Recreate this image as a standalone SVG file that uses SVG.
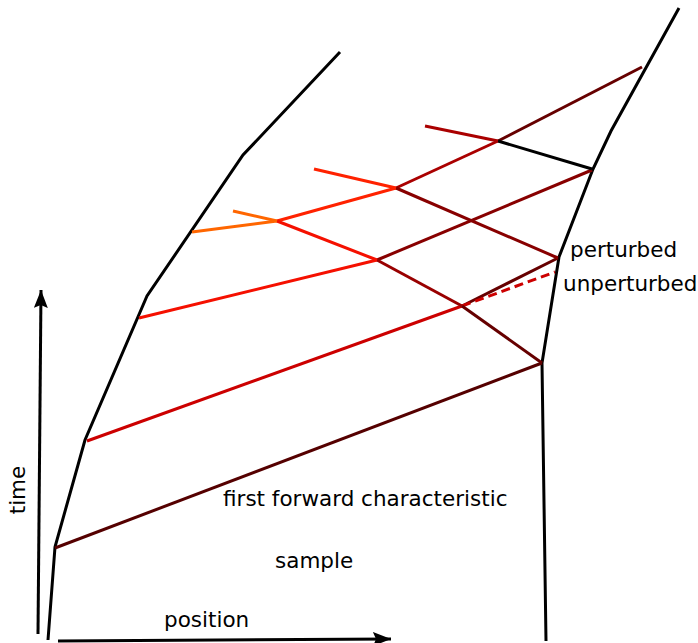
<svg xmlns="http://www.w3.org/2000/svg" width="698" height="643" viewBox="0 0 698 643">
<style>
line,polyline{fill:none;stroke-width:3;stroke-linecap:butt;stroke-linejoin:miter}
.k{stroke:#000}
text{font-family:"DejaVu Sans",sans-serif;font-size:21.5px;fill:#000}
</style>
<defs>
<marker id="ah2" markerWidth="18" markerHeight="14" refX="18" refY="7" orient="auto" markerUnits="userSpaceOnUse" viewBox="0 0 18 14">
<path d="M0,0 L18,7 L0,14 L3,7 Z" fill="#000"/>
</marker>
</defs>
<g id="axes">
<line class="k" x1="38" y1="634" x2="41" y2="290" marker-end="url(#ah2)"/>
<line class="k" x1="58" y1="641" x2="391" y2="639" marker-end="url(#ah2)"/>
</g>
<g id="boundaries">
<polyline class="k" points="48,640 55,547 85,440 147,296 243,155 340,52"/>
<polyline class="k" points="546,641 542,363 559,257 593,169 611,131 679,8"/>
</g>
<g id="connectors">
<line x1="55" y1="548" x2="542" y2="363" stroke="#550000"/>
<line x1="87" y1="441" x2="462" y2="306" stroke="#cc0000"/>
<line x1="462" y1="306" x2="558" y2="258" stroke="#660000"/>
<line x1="462" y1="306" x2="555" y2="272" stroke="#cc0000" stroke-dasharray="9,5"/>
<line x1="139" y1="318" x2="377" y2="260" stroke="#f51000"/>
<line x1="377" y1="260" x2="592" y2="170" stroke="#880000"/>
<line x1="192" y1="232" x2="277" y2="221" stroke="#ff6600"/>
<line x1="277" y1="221" x2="396" y2="188" stroke="#ff2200"/>
<line x1="396" y1="188" x2="498" y2="141" stroke="#aa0000"/>
<line x1="498" y1="141" x2="642" y2="67" stroke="#660000"/>
<line x1="542" y1="363" x2="462" y2="306" stroke="#660000"/>
<line x1="462" y1="306" x2="377" y2="260" stroke="#990000"/>
<line x1="377" y1="260" x2="277" y2="221" stroke="#f51000"/>
<line x1="277" y1="221" x2="233" y2="211" stroke="#ff6600"/>
<line x1="558" y1="258" x2="396" y2="188" stroke="#880000"/>
<line x1="396" y1="188" x2="314" y2="169" stroke="#ff2200"/>
<line x1="592" y1="169" x2="498" y2="141" class="k"/>
<line x1="498" y1="141" x2="425" y2="126" stroke="#aa0000"/>
</g>
<g id="labels">
<text x="570" y="257">perturbed</text>
<text x="563" y="291">unperturbed</text>
<text x="223" y="506">first forward characteristic</text>
<text x="275" y="568">sample</text>
<text x="164" y="627">position</text>
<text transform="translate(25,490) rotate(-90)" text-anchor="middle">time</text>
</g>
</svg>
